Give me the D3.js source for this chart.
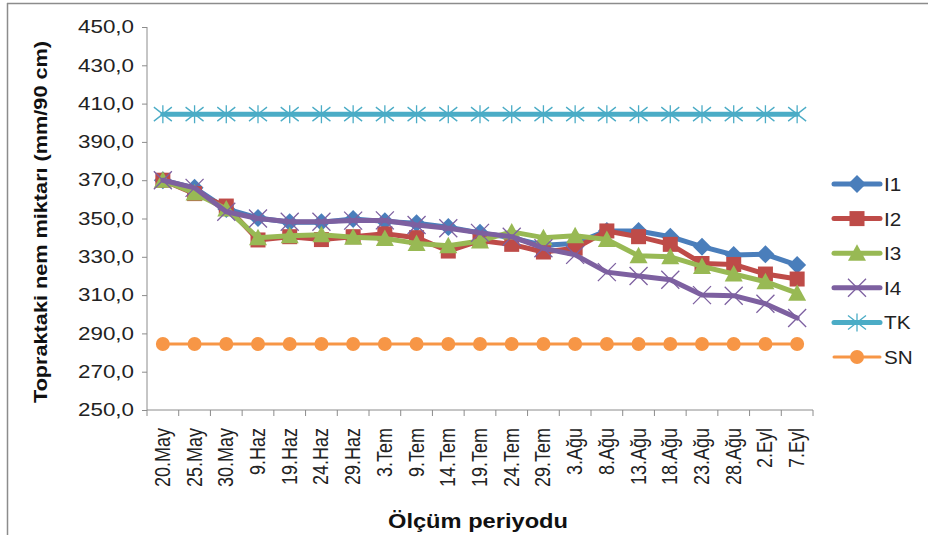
<!DOCTYPE html>
<html>
<head>
<meta charset="utf-8">
<script src="https://cdn.jsdelivr.net/npm/d3@7"></script>
<style>
  html, body { margin: 0; padding: 0; background: #fff; }
  svg { display: block; font-family: "Liberation Sans", Arial, sans-serif; }
</style>
</head>
<body>
<svg id="chart" width="928" height="535"></svg>
<script>
// Measurement dates
const categories = ["20.May", "25.May", "30.May", "9.Haz", "19.Haz", "24.Haz", "29.Haz",
  "3.Tem", "9.Tem", "14.Tem", "19.Tem", "24.Tem", "29.Tem", "3.Ağu", "8.Ağu", "13.Ağu",
  "18.Ağu", "23.Ağu", "28.Ağu", "2.Eyl", "7.Eyl"];

// Soil moisture (mm/90 cm) per treatment
const i1 = [370, 366, 355, 350.3, 348, 348, 349.7, 348.5, 347.5, 345.5, 342.5, 340, 336, 337,
  343.5, 343.5, 340.5, 335.3, 331, 331.3, 325.7];
const i2 = [370, 363, 356.5, 338.8, 340.5, 339, 340.5, 342, 340, 333, 338.5, 336.5, 332.5, 334.5,
  343.5, 340.5, 336.5, 326.5, 326, 321, 318.4];
const i3 = [370, 363.3, 355, 340, 341, 341.5, 340.2, 339.6, 337, 335.8, 338.3, 343, 340, 341,
  339, 330.5, 330, 325, 321, 317, 311];
const i4 = [370, 366, 353.5, 350, 348.3, 348.3, 348.9, 349, 346.6, 344.9, 342.5, 340.5, 334.5, 331,
  322, 320, 318, 310, 309.7, 305.5, 298];
const tk = new Array(categories.length).fill(404.5);
const sn = new Array(categories.length).fill(284.5);

const yTicks = [250, 270, 290, 310, 330, 350, 370, 390, 410, 430, 450];

const series = [
  { name: "I1", values: i1, color: "#4a7ebb", marker: "diamond", width: 5 },
  { name: "I2", values: i2, color: "#be4b48", marker: "square", width: 5 },
  { name: "I3", values: i3, color: "#98b954", marker: "triangle", width: 5 },
  { name: "I4", values: i4, color: "#7d60a0", marker: "cross", width: 5 },
  { name: "TK", values: tk, color: "#4bacc6", marker: "star", width: 5 },
  { name: "SN", values: sn, color: "#f79646", marker: "circle", width: 3 }
];

const svg = d3.select("#chart");
const margin = { left: 147, right: 813, top: 27, bottom: 410 };

// Outer frame
svg.append("line").attr("x1", 7).attr("x2", 928).attr("y1", 3.5).attr("y2", 3.5)
  .attr("stroke", "#8c8c8c").attr("stroke-width", 1.5);
svg.append("line").attr("x1", 7.5).attr("x2", 7.5).attr("y1", 3).attr("y2", 535)
  .attr("stroke", "#8c8c8c").attr("stroke-width", 1.5);

const x = d3.scaleBand().domain(categories).range([margin.left, margin.right]);
const y = d3.scaleLinear().domain([250, 450]).range([margin.bottom, margin.top]);
const cx = c => x(c) + x.bandwidth() / 2;

// Y axis
const yAxis = svg.append("g").attr("transform", `translate(${margin.left},0)`)
  .call(d3.axisLeft(y).tickValues(yTicks).tickSize(5).tickPadding(8)
    .tickFormat(d => d3.format(".1f")(d).replace(".", ",")));
yAxis.selectAll("path, line").attr("stroke", "#8c8c8c");
yAxis.select(".domain").attr("d", `M-0,${margin.top}V${margin.bottom}`);
yAxis.selectAll("text").attr("font-size", 18).attr("fill", "#222")
  .attr("font-family", "Liberation Sans, Arial, sans-serif")
  .attr("textLength", 56).attr("lengthAdjust", "spacingAndGlyphs");

// X axis: ticks at category boundaries
const xAxisG = svg.append("g").attr("transform", `translate(0,${margin.bottom})`);
xAxisG.append("line").attr("x1", margin.left).attr("x2", margin.right)
  .attr("stroke", "#8c8c8c");
const bounds = categories.map(c => x(c)).concat([margin.right]);
xAxisG.selectAll("line.tick").data(bounds).join("line").attr("class", "tick")
  .attr("x1", d => d).attr("x2", d => d).attr("y1", 0).attr("y2", 6)
  .attr("stroke", "#8c8c8c");
xAxisG.selectAll("text").data(categories).join("text")
  .attr("transform", d => `translate(${cx(d) + 7},18) rotate(-90) scale(1,1.18)`)
  .attr("text-anchor", "end")
  .attr("font-size", 18).attr("fill", "#222")
  .text(d => d);

// Axis titles
svg.append("text")
  .attr("transform", "translate(47,222) rotate(-90)")
  .attr("text-anchor", "middle").attr("font-weight", "bold").attr("font-size", 19)
  .attr("textLength", 362).attr("lengthAdjust", "spacingAndGlyphs")
  .attr("fill", "#111").text("Topraktaki nem  miktarı (mm/90 cm)");
svg.append("text")
  .attr("x", 478).attr("y", 528).attr("text-anchor", "middle")
  .attr("font-weight", "bold").attr("font-size", 20).attr("fill", "#111")
  .attr("textLength", 180).attr("lengthAdjust", "spacingAndGlyphs")
  .text("Ölçüm periyodu");

// Marker drawing
function drawMarker(g, type, color, px, py) {
  if (type === "diamond") {
    g.append("path").attr("d", `M${px},${py - 9}L${px + 9},${py}L${px},${py + 9}L${px - 9},${py}Z`)
      .attr("fill", color);
  } else if (type === "square") {
    g.append("rect").attr("x", px - 7.5).attr("y", py - 7.5).attr("width", 15).attr("height", 15)
      .attr("fill", color);
  } else if (type === "triangle") {
    g.append("path").attr("d", `M${px},${py - 9}L${px + 9},${py + 7.5}L${px - 9},${py + 7.5}Z`)
      .attr("fill", color);
  } else if (type === "cross") {
    g.append("path").attr("d", `M${px - 9},${py - 9}L${px + 9},${py + 9}M${px - 9},${py + 9}L${px + 9},${py - 9}`)
      .attr("stroke", color).attr("stroke-width", 1.3).attr("fill", "none");
  } else if (type === "star") {
    g.append("path").attr("d", `M${px - 9},${py - 7}L${px + 9},${py + 7}M${px - 9},${py + 7}L${px + 9},${py - 7}M${px},${py - 9}L${px},${py + 9}`)
      .attr("stroke", color).attr("stroke-width", 1.3).attr("fill", "none");
  } else if (type === "circle") {
    g.append("circle").attr("cx", px).attr("cy", py).attr("r", 7).attr("fill", color);
  }
}

const line = d3.line().x((d, i) => cx(categories[i])).y(d => y(d));

series.forEach(s => {
  const g = svg.append("g");
  g.append("path").datum(s.values).attr("d", line)
    .attr("fill", "none").attr("stroke", s.color).attr("stroke-width", s.width)
    .attr("stroke-linejoin", "round").attr("stroke-linecap", "round");
  s.values.forEach((v, i) => drawMarker(g, s.marker, s.color, cx(categories[i]), y(v)));
});

// Legend
const legend = svg.append("g");
series.forEach((s, i) => {
  const ly = 184 + i * 34.6;
  const lg = legend.append("g");
  lg.append("line").attr("x1", 834).attr("x2", 880).attr("y1", ly).attr("y2", ly)
    .attr("stroke", s.color).attr("stroke-width", s.width).attr("stroke-linecap", "round");
  drawMarker(lg, s.marker, s.color, 857, ly);
  lg.append("text").attr("transform", `translate(884,${ly + 7}) scale(1.15,1)`)
    .attr("font-size", 18).attr("fill", "#222").text(s.name);
});
</script>
</body>
</html>
